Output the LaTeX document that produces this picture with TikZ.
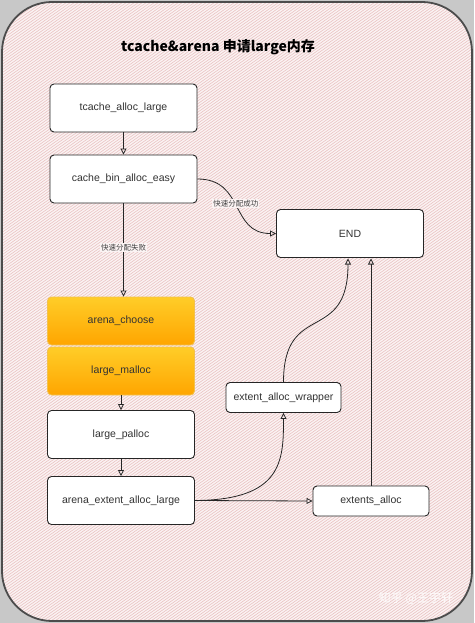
\documentclass[tikz,border=0pt]{standalone}
\usepackage{fontspec}
\setmainfont{Liberation Sans}
\newfontfamily\cjk{Noto Sans CJK SC}
\usetikzlibrary{arrows.meta}
\definecolor{bggray}{HTML}{C8C8C8}
\definecolor{pinkbg}{HTML}{FBF3F3}
\definecolor{hatchc}{HTML}{E9C2C2}
\definecolor{orgtop}{HTML}{FFCD28}
\definecolor{orgbot}{HTML}{FFA500}
\definecolor{orgline}{HTML}{F2C14E}
\tikzset{
  box/.style={draw=black!85, line width=0.9pt, rounded corners=4pt, fill=white,
    minimum width=147pt, minimum height=48pt, inner sep=0pt,
    font=\fontsize{10.5}{12}\selectfont, text=black!80},
  smallbox/.style={box, minimum width=115pt, minimum height=30pt},
  orange/.style={box, draw=orgline, top color=orgtop, bottom color=orgbot},
  arr/.style={draw=black!85, line width=0.8pt, -{Triangle[open,length=6pt,width=6pt]}},
  lbl/.style={fill=pinkbg, inner sep=1pt, font=\cjk\fontsize{7.5}{9}\selectfont, text=black!75},
  hatch/.style={draw=hatchc, line width=0.6pt}
}
\begin{document}
\begin{tikzpicture}[x=1pt,y=-1pt]
\useasboundingbox (0,0) rectangle (474,623);
\fill[bggray] (0,0) rectangle (474,623);
\fill[pinkbg, rounded corners=50pt] (2,2) rectangle (472,621);
\begin{scope}
  \clip[rounded corners=50pt] (2,2) rectangle (472,621);
  \foreach \i in {-900,-896,...,474} \draw[hatch] (\i,623) -- ++(890,-623);
\end{scope}
\draw[black!70, line width=1.8pt, rounded corners=50pt] (2,2) rectangle (472,621);

\node[font=\cjk\bfseries\fontsize{14}{16}\selectfont] (title) at (218,47) {tcache\&arena 申请large内存};

\node[box] (tal) at (123.5,108) {tcache\_alloc\_large};
\node[box] (cbe) at (123.5,179) {cache\_bin\_alloc\_easy};
\node[box] (end) at (350,233.5) {END};
\node[orange] (ac) at (121,321) {arena\_choose};
\node[orange] (lm) at (121,371) {large\_malloc};
\node[box] (lp) at (121,434.5) {large\_palloc};
\node[box] (aeal) at (121,500.5) {arena\_extent\_alloc\_large};
\node[smallbox] (eaw) at (283.5,397.5) {extent\_alloc\_wrapper};
\node[smallbox, minimum width=116pt] (ea) at (371,501) {extents\_alloc};

\draw[arr] (tal) -- (cbe);
\draw[arr] (cbe.south) -- node[lbl, pos=0.47] {快速分配失败} (ac.north -| cbe.south);
\draw[arr] (cbe.east) .. controls (245,179) and (230,233.5) .. node[lbl, pos=0.47] {快速分配成功} (end.west);
\draw[arr] (lm) -- (lp);
\draw[arr] (lp) -- (aeal);
\draw[arr] (aeal.east) -- (ea.west);
\draw[arr] (aeal.east) .. controls (283,500) and (283.5,460) .. (eaw.south);
\draw[arr] (eaw.north) .. controls (283.5,300) and (348,345) .. (348,258.5);
\draw[arr] (ea.north) -- (371,258.5);

\node[font=\cjk\fontsize{12}{14}\selectfont, text=white, opacity=0.85] (wm) at (416,598) {知乎 @王宇轩};
\end{tikzpicture}
\end{document}
